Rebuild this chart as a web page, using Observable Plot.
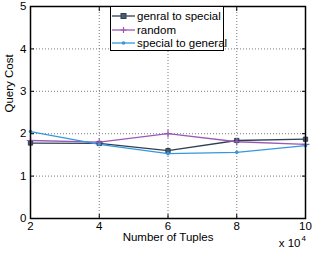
<!DOCTYPE html>
<html><head><meta charset="utf-8">
<script src="https://cdn.jsdelivr.net/npm/d3@7"></script>
<script src="https://cdn.jsdelivr.net/npm/@observablehq/plot@0.6"></script>
<style>
body{margin:0;background:#fff;font-family:"Liberation Sans",Arial,sans-serif;}
#wrap{position:relative;width:312px;height:254px;}
#legend{position:absolute;left:110px;top:6px;width:114px;height:45px;border:1px solid #000;background:#fff;font-size:11.5px;box-sizing:border-box;}
#legend .row{position:absolute;left:1px;height:12px;display:flex;align-items:center;white-space:nowrap;}
#legend svg{margin-right:2px;}
</style></head>
<body><div id="wrap"><div id="chart"></div><div id="legend"></div></div>
<script>
const tuples = [2, 4, 6, 8, 10];
const seriesNames = ["genral to special", "random", "special to general"];
const genralToSpecial = [1.78, 1.77, 1.60, 1.84, 1.87];
const random = [1.84, 1.80, 2.00, 1.81, 1.75];
const specialToGeneral = [2.05, 1.75, 1.53, 1.56, 1.72];
const colors = ["#2e4154", "#9b59b6", "#3498db"];
const symbols = ["square", "plus", "circle"];
const yTicks = [0, 1, 2, 3, 4, 5];

const valuesList = [genralToSpecial, random, specialToGeneral];
const data = [];
seriesNames.forEach((s, i) => tuples.forEach((t, j) => data.push({series: s, x: t, y: valuesList[i][j]})));

const font = "Liberation Sans, Arial, sans-serif";
const noLabel = () => "";
const plot = Plot.plot({
  width: 312, height: 254,
  marginLeft: 30, marginRight: 7, marginTop: 6, marginBottom: 36,
  style: {fontFamily: font, fontSize: "11px", color: "#000", background: "#fff"},
  x: {domain: [2, 10], ticks: tuples},
  y: {domain: [0, 5], ticks: yTicks},
  color: {domain: seriesNames, range: colors},
  symbol: {domain: seriesNames, range: symbols},
  marks: [
    Plot.gridX(tuples, {stroke: "#444", strokeOpacity: 0.7, strokeDasharray: "1,2"}),
    Plot.gridY(yTicks, {stroke: "#444", strokeOpacity: 0.7, strokeDasharray: "1,2"}),
    Plot.axisY({anchor: "left", ticks: yTicks, tickSize: 0, tickPadding: 4, tickFormat: d3.format("d"), label: null, fontSize: 11.5, fill: "#000"}),
    Plot.axisY({anchor: "left", ticks: yTicks, tickSize: 4, dx: 4, tickFormat: noLabel, label: null, stroke: "#000"}),
    Plot.axisY({anchor: "right", ticks: yTicks, tickSize: 4, dx: -4, tickFormat: noLabel, label: null, stroke: "#000"}),
    Plot.axisX({anchor: "bottom", ticks: tuples, tickSize: 0, tickPadding: 3, tickFormat: d3.format("d"), label: null, fontSize: 11.5, fill: "#000"}),
    Plot.axisX({anchor: "bottom", ticks: tuples, tickSize: 4, dy: -4, tickFormat: noLabel, label: null, stroke: "#000"}),
    Plot.axisX({anchor: "top", ticks: tuples, tickSize: 4, dy: 4, tickFormat: noLabel, label: null, stroke: "#000"}),
    Plot.line(data, {x: "x", y: "y", z: "series", stroke: "series", strokeWidth: 1.3}),
    Plot.dot(data.filter(d => d.series === seriesNames[0]), {x: "x", y: "y", symbol: "series", stroke: "series", fill: "#4a5e70", r: 2.4, strokeWidth: 1}),
    Plot.dot(data.filter(d => d.series === seriesNames[1]), {x: "x", y: "y", symbol: "series", stroke: "series", r: 2.6, strokeWidth: 1.2}),
    Plot.dot(data.filter(d => d.series === seriesNames[2]), {x: "x", y: "y", symbol: "series", fill: "series", r: 1.8}),
    Plot.frame({stroke: "#000", strokeWidth: 1.5}),
    Plot.text(["Query Cost"], {frameAnchor: "left", text: d => d, rotate: -90, dx: -21, fontSize: 11.5, fill: "#000"}),
    Plot.text(["Number of Tuples"], {frameAnchor: "bottom", text: d => d, dy: 22, fontSize: 11.5, fill: "#000"}),
    Plot.text(["x 10"], {frameAnchor: "bottom-right", text: d => d, dy: 28, dx: -5, textAnchor: "end", fontSize: 11.5, fill: "#000"}),
    Plot.text(["4"], {frameAnchor: "bottom-right", text: d => d, dy: 22, dx: -4, textAnchor: "start", fontSize: 8, fill: "#000"})
  ]
});
document.getElementById("chart").appendChild(plot);

const leg = document.getElementById("legend");
const tops = [3, 17, 30];
seriesNames.forEach((s, i) => {
  const row = document.createElement("div");
  row.className = "row";
  row.style.top = tops[i] + "px";
  let marker = "";
  if (symbols[i] === "square") marker = `<rect x="9" y="3.5" width="5" height="5" fill="#4a5e70" stroke="${colors[i]}"/>`;
  else if (symbols[i] === "plus") marker = `<path d="M8.5,6h6M11.5,3v6" stroke="${colors[i]}" stroke-width="1.2"/>`;
  else marker = `<circle cx="11.5" cy="6" r="1.8" fill="${colors[i]}"/>`;
  row.innerHTML = `<svg width="23" height="12"><line x1="0" x2="23" y1="6" y2="6" stroke="${colors[i]}" stroke-width="1.3"/>${marker}</svg><span>${s}</span>`;
  leg.appendChild(row);
});
</script></body></html>
